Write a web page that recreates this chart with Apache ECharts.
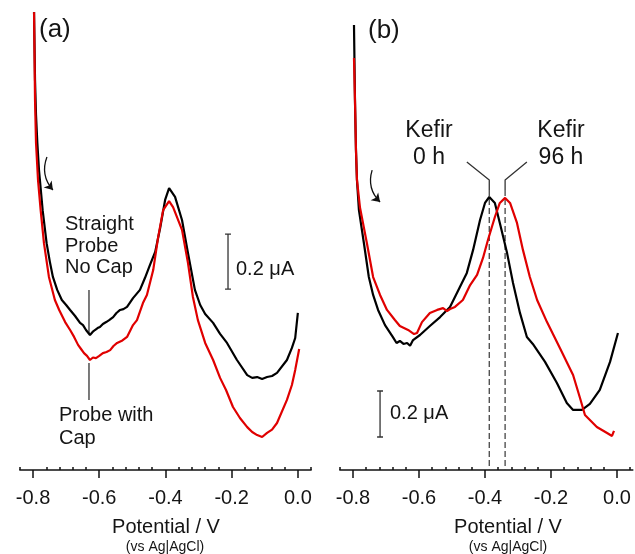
<!DOCTYPE html>
<html>
<head>
<meta charset="utf-8">
<title>Voltammograms</title>
<script src="https://cdn.jsdelivr.net/npm/echarts@6.0.0/dist/echarts.min.js"></script>
<style>
    html, body { margin: 0; padding: 0; background: #fff; }
    #main { width: 635px; height: 554px; }
</style>
</head>
<body>
<div id="main"></div>
<script>
// (a) straight probe, no cap  -- potential (V) / current (uA)
var aNoCapE = [-0.797, -0.794, -0.791, -0.787, -0.782, -0.771, -0.759, -0.749, -0.740, -0.727, -0.713, -0.700, -0.688,
    -0.673, -0.658, -0.649, -0.640, -0.634, -0.628, -0.620, -0.613, -0.605, -0.598, -0.589, -0.579, -0.570, -0.558,
    -0.548, -0.537, -0.527, -0.516, -0.498, -0.477, -0.462, -0.447, -0.431, -0.416, -0.401, -0.389, -0.371, -0.350,
    -0.332, -0.311, -0.295, -0.280, -0.256, -0.235, -0.214, -0.184, -0.153, -0.138, -0.123, -0.108, -0.093, -0.078,
    -0.063, -0.033, -0.018, -0.008, 0.000];
var aNoCapI = [1.665, 1.418, 1.291, 1.189, 1.091, 0.945, 0.825, 0.756, 0.702, 0.655, 0.618, 0.600, 0.582,
    0.560, 0.535, 0.527, 0.509, 0.513, 0.491, 0.502, 0.509, 0.516, 0.520, 0.531, 0.538, 0.545, 0.556,
    0.571, 0.582, 0.585, 0.593, 0.625, 0.655, 0.698, 0.745, 0.793, 0.880, 0.982, 1.025, 0.993, 0.909,
    0.789, 0.655, 0.600, 0.567, 0.535, 0.495, 0.462, 0.400, 0.345, 0.335, 0.338, 0.331, 0.338, 0.342,
    0.353, 0.400, 0.444, 0.480, 0.571];

// (a) probe with cap
var aCapE = [-0.797, -0.794, -0.791, -0.785, -0.777, -0.767, -0.752, -0.734, -0.721, -0.703, -0.688, -0.676, -0.664,
    -0.655, -0.646, -0.637, -0.628, -0.619, -0.610, -0.600, -0.589, -0.578, -0.567, -0.557, -0.546, -0.530, -0.516,
    -0.498, -0.486, -0.468, -0.456, -0.437, -0.422, -0.407, -0.389, -0.377, -0.350, -0.332, -0.317, -0.302, -0.280,
    -0.256, -0.235, -0.217, -0.196, -0.175, -0.153, -0.138, -0.123, -0.108, -0.093, -0.078, -0.063, -0.033, -0.018,
    -0.008, 0.004];
var aCapI = [1.665, 1.345, 1.189, 1.055, 0.945, 0.825, 0.702, 0.618, 0.582, 0.538, 0.509, 0.484, 0.455,
    0.440, 0.425, 0.415, 0.400, 0.409, 0.407, 0.415, 0.425, 0.429, 0.436, 0.451, 0.462, 0.471, 0.484,
    0.527, 0.545, 0.607, 0.636, 0.727, 0.847, 0.945, 0.978, 0.956, 0.873, 0.753, 0.629, 0.545, 0.462,
    0.400, 0.335, 0.291, 0.229, 0.189, 0.156, 0.138, 0.127, 0.120, 0.135, 0.147, 0.171, 0.255, 0.309,
    0.364, 0.440];

// (b) kefir 0 h
var bKefir0E = [-0.797, -0.794, -0.791, -0.788, -0.782, -0.767, -0.752, -0.739, -0.724, -0.703, -0.679, -0.668, -0.658,
    -0.647, -0.636, -0.627, -0.618, -0.597, -0.567, -0.536, -0.506, -0.476, -0.455, -0.436, -0.415, -0.400, -0.387,
    -0.370, -0.355, -0.333, -0.315, -0.294, -0.273, -0.255, -0.218, -0.182, -0.152, -0.133, -0.106, -0.082, -0.052,
    -0.021, 0.003];
var bKefir0I = [1.935, 1.609, 1.391, 1.261, 1.130, 0.987, 0.839, 0.761, 0.696, 0.630, 0.578, 0.552, 0.561,
    0.548, 0.552, 0.540, 0.565, 0.587, 0.626, 0.665, 0.709, 0.796, 0.857, 0.957, 1.087, 1.161, 1.187,
    1.161, 1.074, 0.943, 0.813, 0.683, 0.578, 0.548, 0.470, 0.378, 0.291, 0.261, 0.261, 0.287, 0.348,
    0.470, 0.596];

// (b) kefir 96 h
var bKefir96E = [-0.797, -0.794, -0.791, -0.788, -0.779, -0.758, -0.739, -0.718, -0.697, -0.673, -0.658, -0.633, -0.615,
    -0.606, -0.591, -0.567, -0.545, -0.527, -0.515, -0.506, -0.491, -0.467, -0.445, -0.424, -0.406, -0.391, -0.370,
    -0.355, -0.339, -0.324, -0.303, -0.285, -0.264, -0.242, -0.212, -0.173, -0.133, -0.112, -0.097, -0.061, -0.030,
    -0.015, -0.009];
var bKefir96I = [1.791, 1.609, 1.391, 1.261, 1.143, 0.987, 0.839, 0.761, 0.696, 0.652, 0.626, 0.609, 0.591,
    0.596, 0.643, 0.683, 0.696, 0.704, 0.691, 0.700, 0.709, 0.739, 0.804, 0.848, 0.922, 1.000, 1.100,
    1.161, 1.183, 1.161, 1.074, 0.957, 0.839, 0.739, 0.643, 0.530, 0.413, 0.313, 0.239, 0.187, 0.161,
    0.148, 0.170];

// x axis ticks
var majorTicks = [-0.8, -0.6, -0.4, -0.2, 0.0];
var minorTicks = [-0.84, -0.76, -0.72, -0.68, -0.64, -0.56, -0.52, -0.48, -0.44, -0.36, -0.32, -0.28, -0.24,
    -0.16, -0.12, -0.08, -0.04, 0.04];

// peak potentials marked in (b)
var peakE = [-0.387, -0.339];

var FONT = '"Liberation Sans", Arial, sans-serif';
var INK = '#151515';

function zip(xs, ys) {
    var out = [];
    for (var i = 0; i < xs.length; i++) {
        out.push([xs[i], ys[i]]);
    }
    return out;
}

function curve(name, xs, ys, color, idx) {
    return {
        name: name, type: 'line', xAxisIndex: idx * 2, yAxisIndex: idx,
        data: zip(xs, ys), showSymbol: false, symbol: 'none',
        lineStyle: {color: color, width: 2.2}, z: 3
    };
}

// thin helper line (scale bars, leaders)
function path(pts, idx, style) {
    return {
        type: 'line', xAxisIndex: idx * 2, yAxisIndex: idx, data: pts,
        showSymbol: false, symbol: 'none', silent: true,
        lineStyle: style || {color: '#333', width: 1.3}, z: 2
    };
}

function scaleBar(x, y0, y1, d, idx) {
    return path([[x - d, y0], [x + d, y0], [x, y0], [x, y1], [x - d, y1], [x + d, y1]], idx);
}

function arrow(from, to, idx) {
    return {
        type: 'lines', coordinateSystem: 'cartesian2d', xAxisIndex: idx * 2, yAxisIndex: idx,
        symbol: ['none', 'arrow'], symbolSize: 8, silent: true,
        lineStyle: {color: '#111', width: 1.3, curveness: -0.3, opacity: 1},
        data: [{coords: [from, to]}]
    };
}

function xAxes(grid, max) {
    return [{
        gridIndex: grid, type: 'value', position: 'bottom', min: -0.84, max: max,
        axisLine: {show: true, onZero: false, lineStyle: {color: '#111', width: 1.5}},
        axisTick: {show: true, inside: false, length: 8, customValues: majorTicks, lineStyle: {color: '#111', width: 1.5}},
        axisLabel: {
            customValues: majorTicks, margin: 18, fontSize: 20, fontFamily: FONT, color: INK,
            formatter: function (v) { return v.toFixed(1); }
        },
        splitLine: {show: false}
    }, {
        gridIndex: grid, type: 'value', position: 'bottom', min: -0.84, max: max,
        axisLine: {show: false},
        axisTick: {show: true, inside: true, length: 3, customValues: minorTicks, lineStyle: {color: '#111', width: 1.5}},
        axisLabel: {show: false},
        splitLine: {show: false}
    }];
}

function text(str, x, y, size, align, lh) {
    return {
        type: 'text', x: x, y: y, silent: true,
        style: {
            text: str, fill: INK, font: size + 'px ' + FONT,
            textAlign: align || 'left', textVerticalAlign: 'middle', lineHeight: lh
        }
    };
}

var chart = echarts.init(document.getElementById('main'), null, {renderer: 'canvas'});

var option = {
    animation: false,
    backgroundColor: '#fff',
    grid: [
        {left: 19.8, top: 2.5, width: 291.3, height: 467.5, outerBoundsMode: 'none'},
        {left: 339.8, top: 10, width: 293, height: 460, outerBoundsMode: 'none'}
    ],
    xAxis: xAxes(0, 0.04).concat(xAxes(1, 0.048)),
    yAxis: [
        {gridIndex: 0, type: 'value', min: 0, max: 1.7, show: false},
        {gridIndex: 1, type: 'value', min: 0, max: 2.0, show: false}
    ],
    series: [
        curve('Straight Probe No Cap', aNoCapE, aNoCapI, '#000', 0),
        curve('Probe with Cap', aCapE, aCapI, '#e00000', 0),
        curve('Kefir 0 h', bKefir0E, bKefir0I, '#000', 1),
        curve('Kefir 96 h', bKefir96E, bKefir96I, '#e00000', 1),

        // scale bars, 0.2 uA each
        scaleBar(-0.211, 0.658, 0.858, 0.009, 0),
        scaleBar(-0.718, 0.1435, 0.3435, 0.009, 1),

        // leaders in (a)
        path([[-0.631, 0.655], [-0.631, 0.498]], 0),
        path([[-0.631, 0.389], [-0.631, 0.255]], 0),

        // leaders + dashed peak markers in (b)
        path([[-0.455, 1.339], [peakE[0], 1.261], [peakE[0], 1.217]], 1),
        path([[-0.273, 1.339], [peakE[1], 1.261], [peakE[1], 1.217]], 1),
        path([[peakE[0], 1.217], [peakE[0], 0]], 1, {color: '#444', width: 1.3, type: [6, 3]}),
        path([[peakE[1], 1.217], [peakE[1], 0]], 1, {color: '#444', width: 1.3, type: [6, 3]}),

        // scan direction arrows
        arrow([-0.758, 1.138], [-0.740, 1.018], 0),
        arrow([-0.742, 1.304], [-0.718, 1.165], 1)
    ],
    graphic: [
        text('(a)', 39, 30, 26),
        text('(b)', 368, 31, 26),
        text('Straight\nProbe\nNo Cap', 65, 246, 20, 'left', 21.5),
        text('Probe with\nCap', 59, 426.5, 20, 'left', 23),
        text('0.2 \u03bcA', 236, 269, 20),
        text('0.2 \u03bcA', 390, 413, 20),
        text('Kefir\n0 h', 429, 144.5, 23, 'center', 27),
        text('Kefir\n96 h', 561, 144.5, 23, 'center', 27),
        text('Potential / V', 166, 527, 20, 'center'),
        text('(vs Ag|AgCl)', 165, 547, 14, 'center'),
        text('Potential / V', 508, 527, 20, 'center'),
        text('(vs Ag|AgCl)', 508, 547, 14, 'center')
    ]
};

chart.setOption(option);
</script>
</body>
</html>
